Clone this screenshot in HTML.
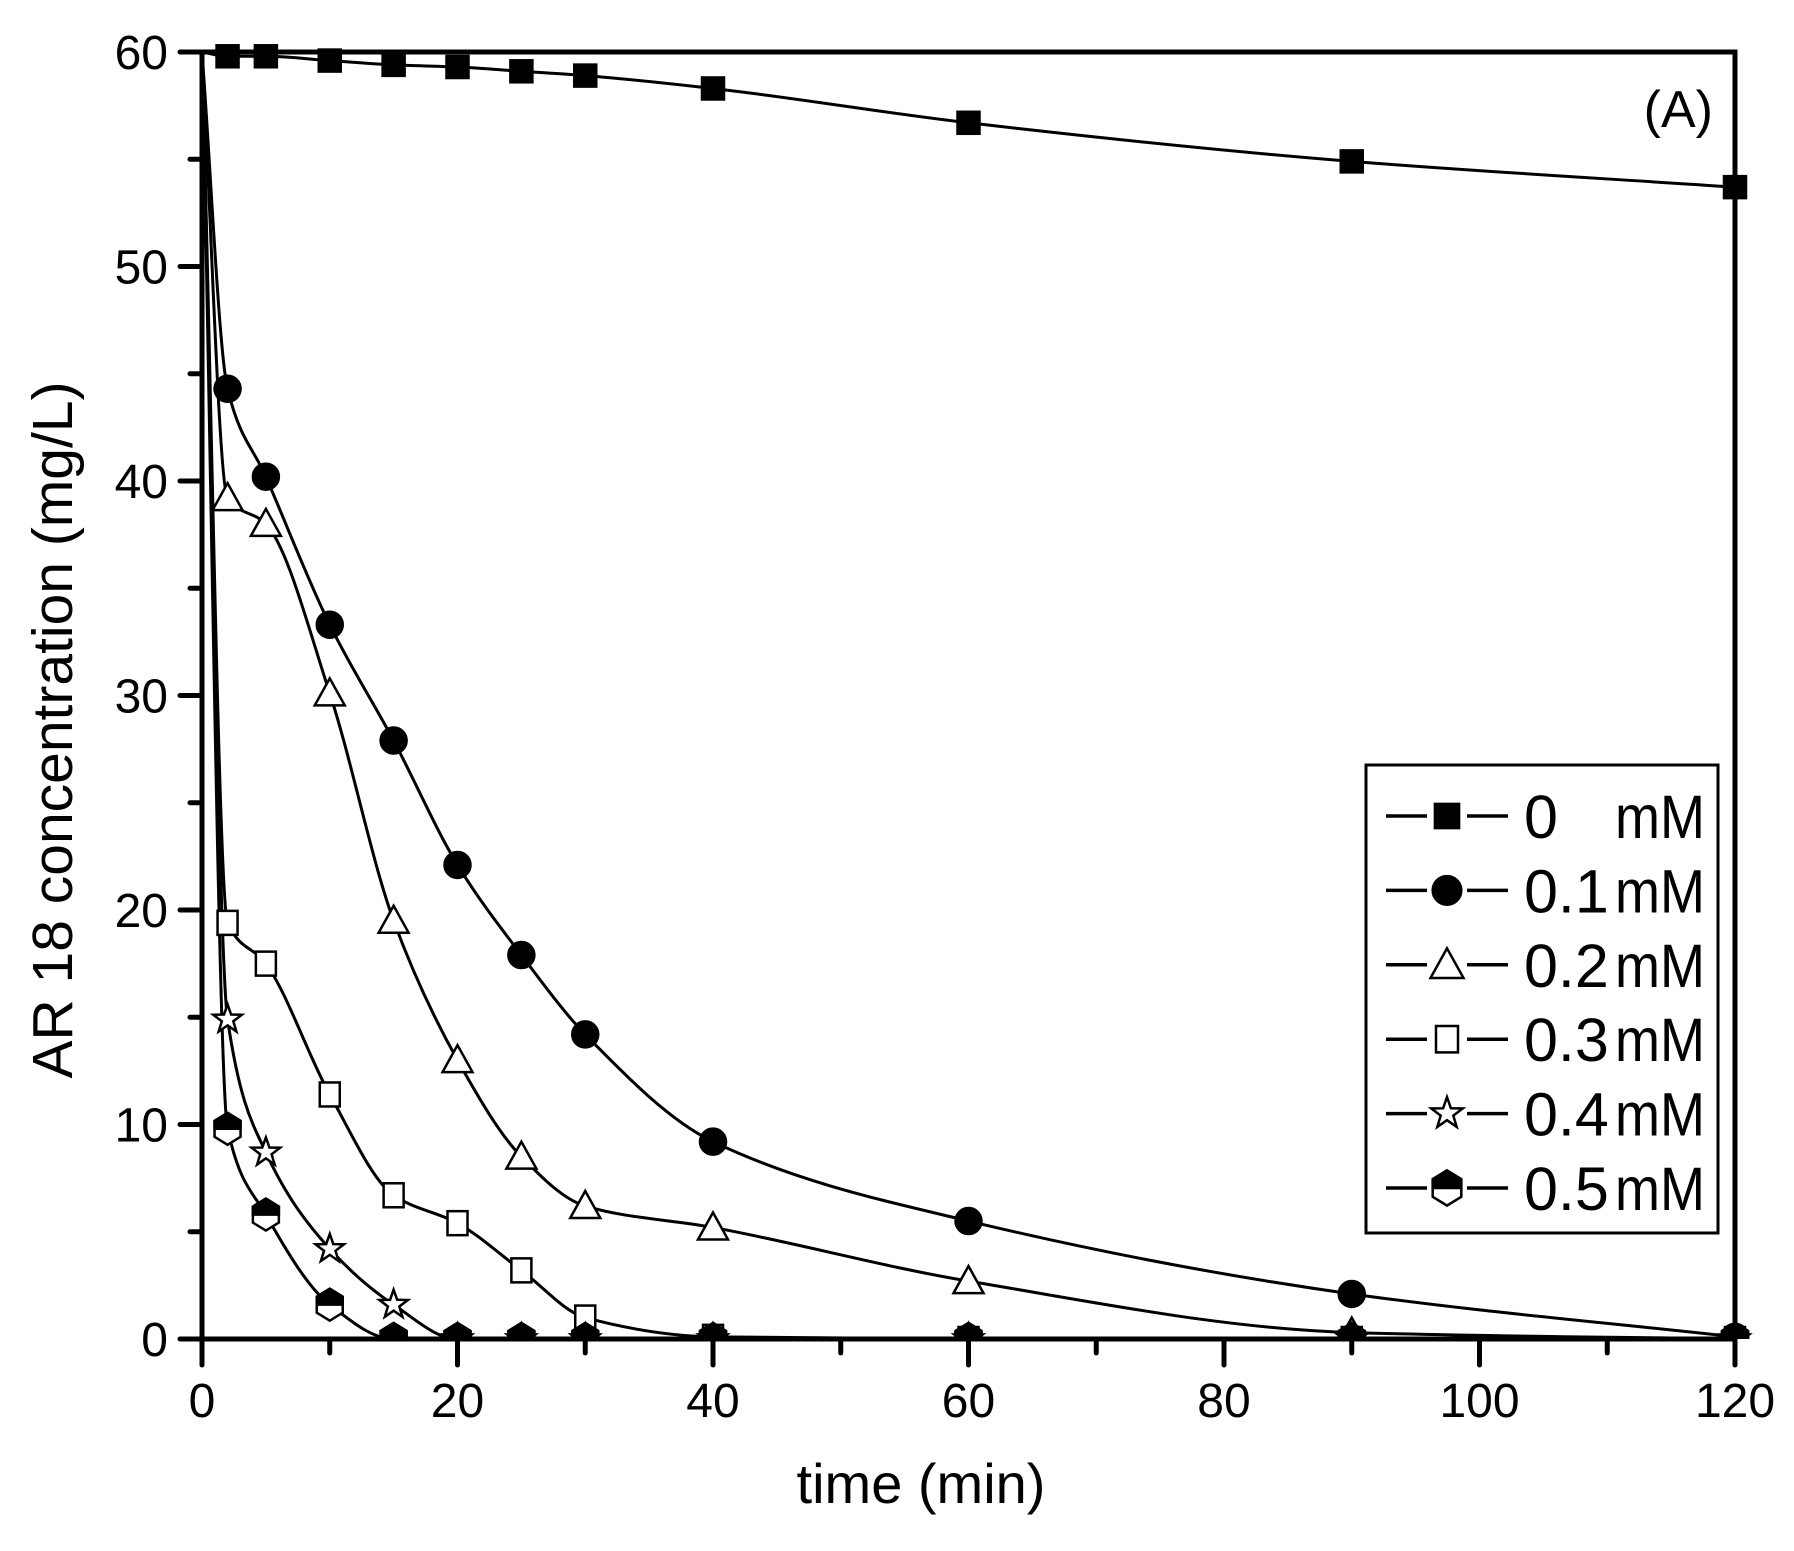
<!DOCTYPE html>
<html><head><meta charset="utf-8"><style>
html,body{margin:0;padding:0;background:#fff;}
svg{display:block;font-family:"Liberation Sans",Arial,sans-serif;}
</style></head><body>
<svg id="s" width="1794" height="1551" viewBox="0 0 1794 1551" xmlns="http://www.w3.org/2000/svg">
<defs><clipPath id="cp"><rect x="202" y="30" width="1560" height="1309"/></clipPath></defs>
<rect width="1794" height="1551" fill="#fff"/>
<g id="curves" fill="none" stroke="#000" stroke-width="3" clip-path="url(#cp)"></g>
<g id="marks" stroke="#000" stroke-width="2.5" clip-path="url(#cp)"></g>
<rect x="202" y="52" width="1533" height="1287" fill="none" stroke="#000" stroke-width="5"/>
<g id="ticks" stroke="#000" stroke-width="5" stroke-linecap="round"></g>
<g id="labels" font-size="48" fill="#000"></g>
<text x="1713" y="127" font-size="52" text-anchor="end">(A)</text>
<text x="921" y="1503" font-size="56" text-anchor="middle">time (min)</text>
<text transform="translate(72,730) rotate(-90)" font-size="57" text-anchor="middle">AR 18 concentration (mg/L)</text>
<rect x="1366" y="765" width="352" height="468" fill="#fff" stroke="#000" stroke-width="3"/>
<g id="leg" font-size="61"></g>
</svg>
<script>
const NS="http://www.w3.org/2000/svg";
const X=t=>202+t*1533/120, Y=v=>1339-v*1287/60;
function el(p,tag,a,txt){const e=document.createElementNS(NS,tag);for(const k in a)e.setAttribute(k,a[k]);if(txt!=null)e.textContent=txt;(typeof p=="string"?document.getElementById(p):p).appendChild(e);return e;}
const T=[0,2,5,10,15,20,25,30,40,60,90,120];
const S=[
 ["sq",[60,59.8,59.8,59.6,59.4,59.3,59.1,58.9,58.3,56.7,54.9,53.7]],
 ["ci",[60,44.3,40.2,33.3,27.9,22.1,17.9,14.2,9.2,5.5,2.1,0.1]],
 ["tr",[60,39.2,38,30.1,19.5,13,8.5,6.2,5.2,2.7,0.3,0]],
 ["os",[60,19.4,17.5,11.4,6.7,5.4,3.2,1,0.1,0,0,0]],
 ["st",[60,14.9,8.7,4.2,1.6,0,0,0,0,0,0,0]],
 ["hx",[60,9.8,5.8,1.6,0,0,0,0,0,0,0,0]]];
function path(p){const n=p.length,d=[],m=[];
 for(let i=0;i<n-1;i++)d.push((p[i+1][1]-p[i][1])/(p[i+1][0]-p[i][0]));
 m[0]=d[0];m[n-1]=d[n-2];
 for(let i=1;i<n-1;i++){if(d[i-1]*d[i]<=0)m[i]=0;else{const h0=p[i][0]-p[i-1][0],h1=p[i+1][0]-p[i][0];m[i]=3*(h0+h1)/((2*h1+h0)/d[i-1]+(h1+2*h0)/d[i]);}}
 let s=`M${p[0][0]},${p[0][1]}`;
 for(let i=0;i<n-1;i++){const h=(p[i+1][0]-p[i][0])/3;s+=` C${p[i][0]+h},${p[i][1]+m[i]*h} ${p[i+1][0]-h},${p[i+1][1]-m[i+1]*h} ${p[i+1][0]},${p[i+1][1]}`;}
 return s;}
function marker(p,type,x,y,k){k=k||1;
 if(type=="sq")el(p,"rect",{x:x-11*k,y:y-11*k,width:22*k,height:22*k,fill:"#000"});
 if(type=="ci")el(p,"circle",{cx:x,cy:y,r:13*k,fill:"#000"});
 if(type=="tr")el(p,"polygon",{points:`${x},${y-15*k} ${x+15*k},${y+12*k} ${x-15*k},${y+12*k}`,fill:"#fff"});
 if(type=="os")el(p,"rect",{x:x-10*k,y:y-12*k,width:20*k,height:24*k,fill:"#fff"});
 if(type=="st"){let pts=[];for(let i=0;i<10;i++){const r=(i%2?6:15)*k,a=-Math.PI/2+i*Math.PI/5;pts.push((x+r*Math.cos(a)).toFixed(1)+","+(y+r*Math.sin(a)).toFixed(1));}el(p,"polygon",{points:pts.join(" "),fill:"#fff"});}
 if(type=="hx"){const a=13*k,b=8*k,c=16*k;const h=`${x},${y-c} ${x+a},${y-b} ${x+a},${y+b} ${x},${y+c} ${x-a},${y+b} ${x-a},${y-b}`;
  el(p,"polygon",{points:h,fill:"#fff"});el(p,"polygon",{points:`${x},${y-c} ${x+a},${y-b} ${x+a},${y} ${x-a},${y} ${x-a},${y-b}`,fill:"#000"});}
}
S.forEach(([m,v])=>{const pts=T.map((t,i)=>[X(t),Y(v[i])]);el("curves","path",{d:path(pts)});pts.slice(1).forEach(p=>marker("marks",m,p[0],p[1]));});
for(let v=0;v<=60;v+=5){const y=Y(v);el("ticks","line",{x1:v%10?190:180,y1:y,x2:202,y2:y});if(v%10==0)el("labels","text",{x:168,y:y+17,"text-anchor":"end"},v);}
for(let t=0;t<=120;t+=10){const x=X(t);el("ticks","line",{x1:x,y1:1339,x2:x,y2:t%20?1353:1365});if(t%20==0)el("labels","text",{x:x,y:1417,"text-anchor":"middle"},t);}
const names=["0","0.1","0.2","0.3","0.4","0.5"];
names.forEach((n,i)=>{const y=816+i*74.4;
 el("leg","line",{x1:1386,y1:y,x2:1427,y2:y,stroke:"#000","stroke-width":3.5});
 el("leg","line",{x1:1467,y1:y,x2:1508,y2:y,stroke:"#000","stroke-width":3.5});
 const g=el("leg","g",{stroke:"#000","stroke-width":2.5});marker(g,S[i][0],1447,y,1.1);
 el("leg","text",{x:1524,y:y+22},n);el("leg","text",{x:1615,y:y+22,textLength:90,lengthAdjust:"spacingAndGlyphs"},"mM");});
</script>
</body></html>
